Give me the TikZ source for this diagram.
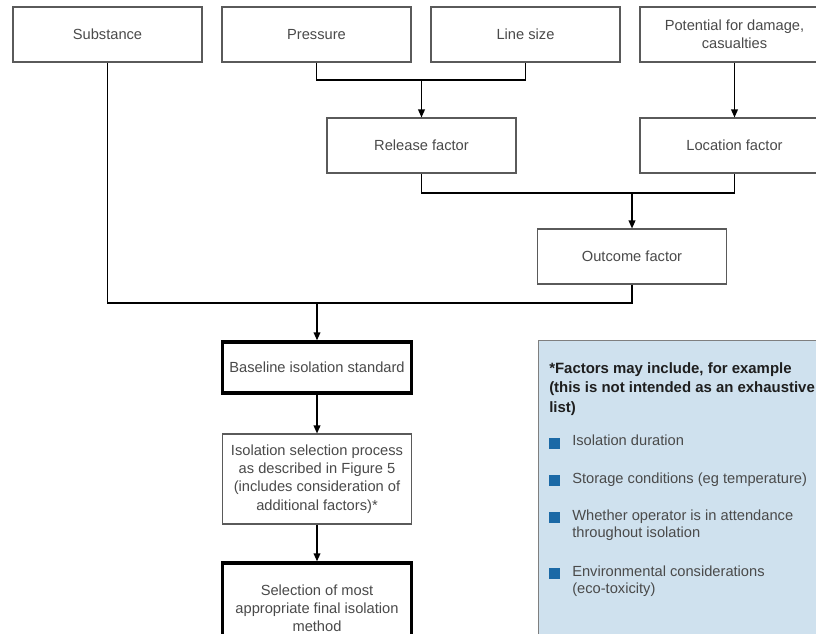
\documentclass[tikz,border=0pt]{standalone}
\usepackage{fontspec}
\setmainfont{Liberation Sans}
\usetikzlibrary{arrows.meta}
\definecolor{boxtext}{HTML}{4A4A4A}
\definecolor{boxline}{HTML}{5A5A5A}
\definecolor{infofill}{HTML}{CFE1EE}
\definecolor{infoline}{HTML}{7F7F7F}
\definecolor{bulletblue}{HTML}{1B69A6}
\definecolor{titletext}{HTML}{1E1E1E}
\begin{document}
\begin{tikzpicture}[x=0.75pt,y=-0.75pt,
  box/.style={draw=boxline, line width=0.8pt, fill=white, minimum width=141.75pt,
    minimum height=41.25pt, inner sep=0pt, align=center, text=boxtext,
    font=\fontsize{11}{13.6}\selectfont},
  thickbox/.style={box, draw=black, line width=2.5pt},
  conn/.style={line width=1.1pt, black},
  arr/.style={conn, -{Triangle[length=6pt,width=5pt]}},
  bulletsq/.style={fill=bulletblue, minimum size=8.25pt, inner sep=0pt},
  itemtext/.style={inner sep=0pt, align=left, text=boxtext, font=\fontsize{11}{13.1}\selectfont},
  titlestyle/.style={inner sep=0pt, align=left, text=titletext, font=\fontsize{11.2}{14.6}\selectfont\bfseries}
]
\useasboundingbox (0,0) rectangle (816,633);
\clip (0,0) rectangle (816,633);

% top row
\node[box] (subst) at (107.5,34.5) {Substance};
\node[box] (press) at (316.5,34.5) {Pressure};
\node[box] (lines) at (525.5,34.5) {Line size};
\node[box] (pot) at (734.5,34.5) {Potential for damage,\\casualties};

% factors
\node[box] (rel) at (421.5,145.5) {Release factor};
\node[box] (loc) at (734.5,145.5) {Location factor};
\node[box] (outc) at (632,256.5) {Outcome factor};

% lower column
\node[thickbox, minimum height=38.25pt] (base) at (317,367.5) {Baseline isolation standard};
\node[box, minimum height=67.5pt] (iso) at (317,479) {Isolation selection process\\as described in Figure 5\\(includes consideration of\\additional factors)*};
\node[thickbox, minimum height=67.5pt] (sel) at (317,608) {Selection of most\\appropriate final isolation\\method};

% junctions
\coordinate (jr) at (421.5,80);
\coordinate (jo) at (632,193);
\coordinate (jb) at (317,303);

\draw[conn] (press.south) |- (jr) -| (lines.south);
\draw[arr] (jr) -- (rel.north);
\draw[arr] (pot.south) -- (loc.north);
\draw[conn] (rel.south) |- (jo) -| (loc.south);
\draw[arr] (jo) -- (outc.north);
\draw[conn] (subst.south) |- (jb);
\draw[conn] (outc.south) |- (jb);
\draw[arr] (jb) -- (base.north);
\draw[arr] (base.south) -- (iso.north);
\draw[arr] (iso.south) -- (sel.north);

% info box
\node[draw=infoline, fill=infofill, line width=1pt, anchor=north west, inner sep=0pt,
  minimum width=225pt, minimum height=240pt] (info) at (538,340) {};
\node[titlestyle, anchor=north west] (title) at (549,362) {*Factors may include, for example\\(this is not intended as an exhaustive\\list)};

\node[bulletsq] (b1) at (554,443) {};
\node[bulletsq] (b2) at (554,480) {};
\node[bulletsq] (b3) at (554,517) {};
\node[bulletsq] (b4) at (554,573) {};

\node[itemtext, anchor=mid west] (t1) at (572,442) {Isolation duration};
\node[itemtext, anchor=mid west] (t2) at (572,480) {Storage conditions (eg temperature)};
\node[itemtext, anchor=north west] (t3) at (572,509.5) {Whether operator is in attendance\\throughout isolation};
\node[itemtext, anchor=north west] (t4) at (572,565.5) {Environmental considerations\\(eco-toxicity)};
\end{tikzpicture}
\end{document}
